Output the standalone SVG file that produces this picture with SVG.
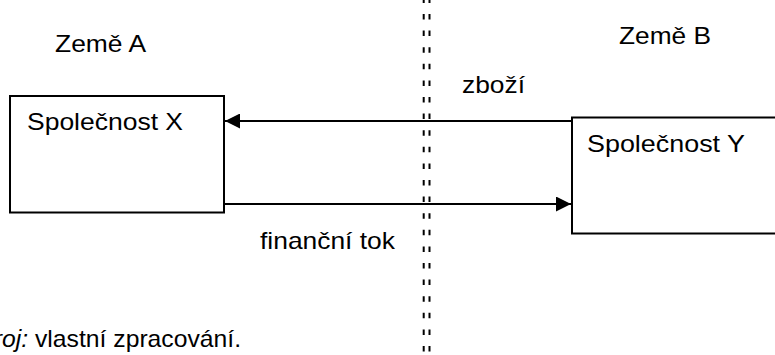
<svg xmlns="http://www.w3.org/2000/svg" width="775" height="355" viewBox="0 0 775 355">
  <style>
    .box { fill: #ffffff; stroke: #000000; stroke-width: 2; }
    .conn { stroke: #000000; stroke-width: 2; fill: none; }
    .border { stroke: #000000; stroke-width: 2; stroke-dasharray: 5.5 11.1; stroke-dashoffset: -14; }
    text { font-family: "Liberation Sans", Arial, sans-serif; font-size: 24px; fill: #000000; }
  </style>
  <defs>
    <marker id="arrow" viewBox="0 0 15 15" refX="15" refY="7.5" markerWidth="15" markerHeight="15" markerUnits="userSpaceOnUse" orient="auto">
      <path d="M0,0 L15,7.5 L0,15 Z" fill="#000000"/>
    </marker>
  </defs>
  <rect width="775" height="355" fill="#ffffff"/>

  <g id="border">
    <line class="border" x1="423.7" y1="0" x2="423.7" y2="355"/>
    <line class="border" x1="429.5" y1="0" x2="429.5" y2="355"/>
  </g>

  <g id="labels">
    <text x="55" y="52" textLength="91" lengthAdjust="spacingAndGlyphs">Země A</text>
    <text x="619" y="43.5" textLength="92" lengthAdjust="spacingAndGlyphs">Země B</text>
  </g>

  <g id="node-x">
    <rect class="box" x="10" y="96" width="214" height="116.5"/>
    <text x="27" y="130" textLength="156" lengthAdjust="spacingAndGlyphs">Společnost X</text>
  </g>

  <g id="node-y">
    <rect class="box" x="572" y="117.5" width="215" height="116"/>
    <text x="587" y="151.5" textLength="158" lengthAdjust="spacingAndGlyphs">Společnost Y</text>
  </g>

  <g id="connectors">
    <line class="conn" x1="572" y1="121" x2="225" y2="121" marker-end="url(#arrow)"/>
    <line class="conn" x1="224" y1="204" x2="571" y2="204" marker-end="url(#arrow)"/>
    <text x="462" y="92.5" textLength="63" lengthAdjust="spacingAndGlyphs">zboží</text>
    <text x="260" y="249.3" textLength="135" lengthAdjust="spacingAndGlyphs">finanční tok</text>
  </g>

  <g id="source">
    <text x="-35" y="346.7" textLength="276" lengthAdjust="spacingAndGlyphs"><tspan font-style="italic">Zdroj:</tspan> vlastní zpracování.</text>
  </g>
</svg>
